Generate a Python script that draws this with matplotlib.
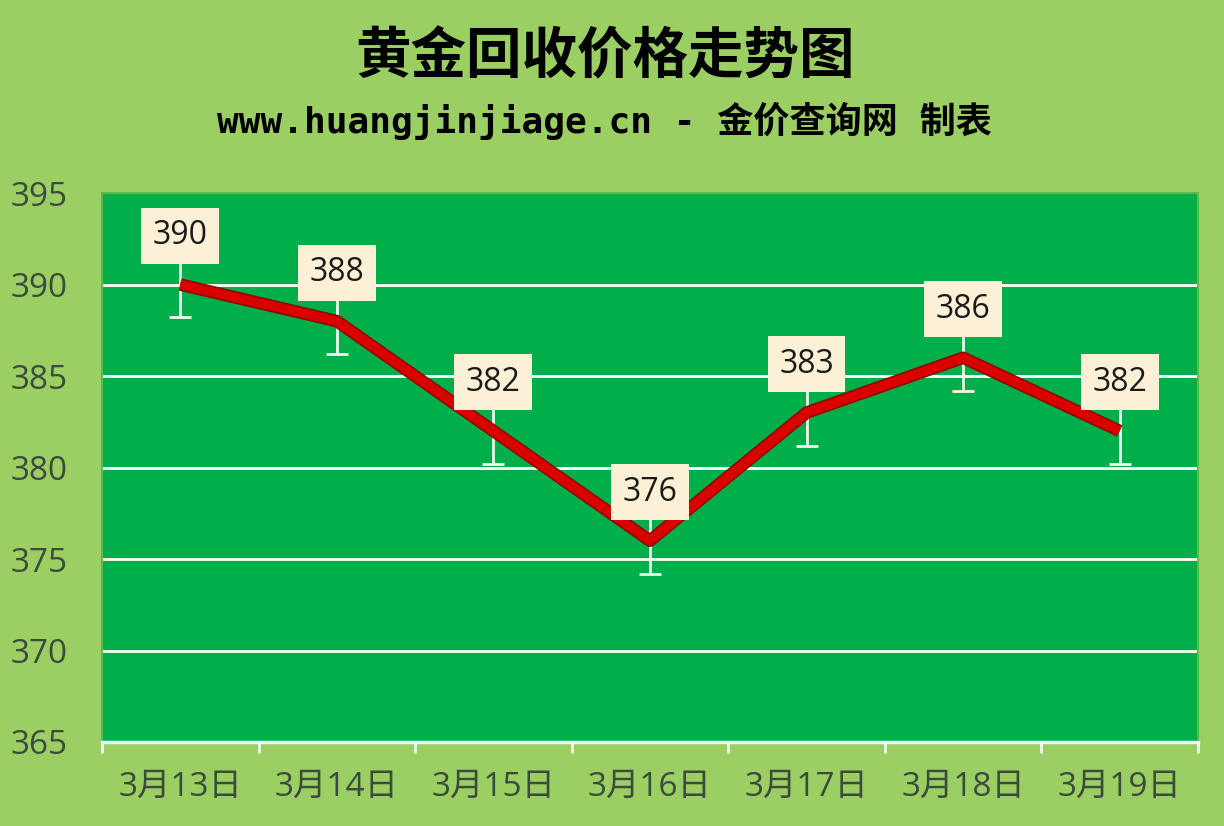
import numpy as np
import matplotlib.pyplot as plt
import matplotlib.patheffects as pe

# chart data
dates = ["3月13日", "3月14日", "3月15日", "3月16日", "3月17日", "3月18日", "3月19日"]
prices = [390, 388, 382, 376, 383, 386, 382]
err = [1.8, 1.8, 1.8, 1.8, 1.8, 1.8, 1.8]
yticks = [365, 370, 375, 380, 385, 390, 395]

bg = "#9CCF63"
plot_bg = "#00AE4A"
txt = "#3B4A3B"

plt.rcParams['font.family'] = ['Open Sans', 'Noto Sans CJK SC', 'DejaVu Sans']

fig = plt.figure(figsize=(12.24, 8.26), dpi=100, facecolor=bg)
ax = fig.add_axes([0.0833, 0.1017, 0.8954, 0.6646])
ax.set_facecolor(plot_bg)

x = np.arange(len(dates))
ax.set_xlim(-0.5, len(dates) - 0.5)
ax.set_ylim(365, 395)

for y in yticks[1:-1]:
    ax.axhline(y, color="white", lw=2, zorder=1)

ax.errorbar(x, prices, yerr=err, fmt="none", ecolor="#F0F8F0", elinewidth=2,
            capsize=8, capthick=2, zorder=2)

ax.plot(x, prices, color="#DA0000", lw=6.5, solid_capstyle="butt", zorder=3,
        path_effects=[pe.Stroke(linewidth=9, foreground="#9A0000"), pe.Normal()])

for xi, p in zip(x, prices):
    ax.annotate(str(p), (xi, p), xytext=(0, 35), textcoords="offset points",
                ha="center", va="center", fontsize=23, color="#1A1A1A", zorder=5,
                bbox=dict(boxstyle="square,pad=0.36", fc="#FCF0D6", ec="none"))

ax.set_yticks(yticks)
ax.set_yticklabels([str(v) for v in yticks], fontsize=24, color=txt)
ax.set_xticks(x)
ax.set_xticklabels(dates, fontsize=24, color=txt)
ax.tick_params(axis="y", length=0, pad=25)
ax.tick_params(axis="x", length=0, pad=21)
ax.set_xticks(np.arange(-0.5, len(dates)), minor=True)
ax.tick_params(axis="x", which="minor", length=8, width=2, color="#F0F8F0", direction="out")

for s in ["left", "right", "top"]:
    ax.spines[s].set_color("#5FB84A")
    ax.spines[s].set_linewidth(1.5)
ax.spines["bottom"].set_color("#F0F8F0")
ax.spines["bottom"].set_linewidth(2.5)

fig.text(0.494, 0.93, "黄金回收价格走势图", ha="center", va="center", fontsize=40,
         fontweight="bold", color="black", family=['Noto Sans CJK SC'])
fig.text(0.494, 0.853, "www.huangjinjiage.cn - 金价查询网 制表", ha="center", va="center",
         fontsize=26, fontweight="bold", color="black",
         family=['DejaVu Sans Mono', 'Noto Sans CJK SC'])

fig.savefig("out.png", dpi=100, facecolor=bg)
